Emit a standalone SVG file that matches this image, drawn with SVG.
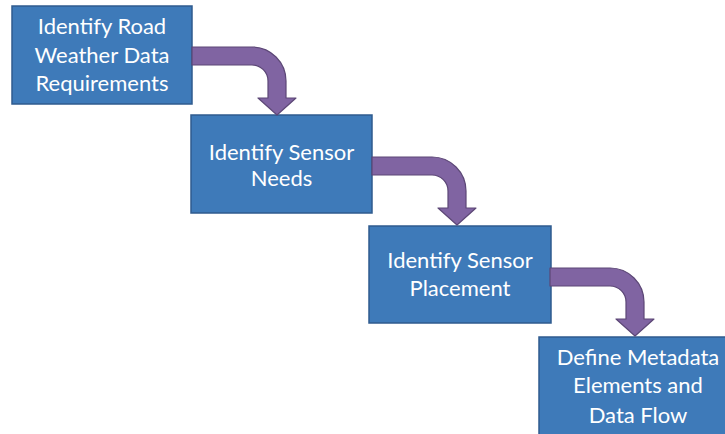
<svg xmlns="http://www.w3.org/2000/svg" xmlns:xlink="http://www.w3.org/1999/xlink" width="725" height="434" viewBox="0 0 725 434">
<style>
.box{fill:#3E7AB9;stroke:#2F5B8E;stroke-width:1.5}
.lbl{font-family:Lato,"Open Sans","Liberation Sans",sans-serif;font-size:22px;fill:#FFFFFF;text-anchor:middle}
.arr{fill:#8064A2;stroke:#5C4776;stroke-width:1.2;stroke-linejoin:round}
</style>
<defs>
<path id="bent" class="arr" d="M192,47 H252 A34,34 0 0 1 286,81 V98 H296 L277,115 L258,98 H268 V81 A16,16 0 0 0 252,65 H192 Z"/>
</defs>
<rect width="725" height="434" fill="#FFFFFF"/>
<g id="node1">
<rect class="box" x="12" y="6" width="180" height="98"/>
<text class="lbl" x="102" y="34">Identify Road</text>
<text class="lbl" x="102" y="63">Weather Data</text>
<text class="lbl" x="102" y="91">Requirements</text>
</g>
<g id="node2">
<rect class="box" x="191" y="115" width="181" height="98"/>
<text class="lbl" x="281.5" y="160">Identify Sensor</text>
<text class="lbl" x="281.5" y="186">Needs</text>
</g>
<g id="node3">
<rect class="box" x="369" y="226" width="182" height="97"/>
<text class="lbl" x="460" y="268">Identify Sensor</text>
<text class="lbl" x="460" y="296">Placement</text>
</g>
<g id="node4">
<rect class="box" x="539" y="337" width="190" height="102"/>
<text class="lbl" x="638" y="365">Define Metadata</text>
<text class="lbl" x="638" y="393">Elements and</text>
<text class="lbl" x="638" y="423">Data Flow</text>
</g>
<g id="connectors">
<use xlink:href="#bent"/>
<use xlink:href="#bent" transform="translate(180,110)"/>
<use xlink:href="#bent" transform="translate(358,221)"/>
</g>
</svg>
